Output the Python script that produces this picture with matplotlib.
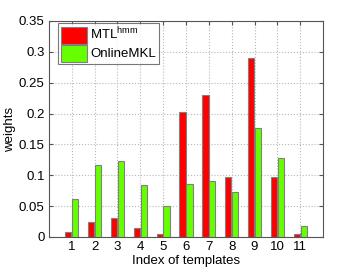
import matplotlib
matplotlib.use('Agg')
import matplotlib.pyplot as plt
import numpy as np

plt.rcParams['font.family'] = ['Liberation Sans', 'DejaVu Sans']

# data
templates = [1, 2, 3, 4, 5, 6, 7, 8, 9, 10, 11]
mtl_hmm = [0.008, 0.025, 0.030, 0.015, 0.005, 0.202, 0.230, 0.098, 0.290, 0.098, 0.005]
online_mkl = [0.062, 0.117, 0.123, 0.084, 0.050, 0.086, 0.090, 0.073, 0.176, 0.128, 0.018]
yticks = [0, 0.05, 0.1, 0.15, 0.2, 0.25, 0.3, 0.35]
yticklabels = ['0', '0.05', '0.1', '0.15', '0.2', '0.25', '0.3', '0.35']

fig = plt.figure(figsize=(3.57, 2.69), dpi=100)
ax = fig.add_axes([0.137, 0.119, 0.768, 0.803])

x = np.array(templates)
w = 0.27
ax.bar(x - 0.15, mtl_hmm, w, color='#ff0000', edgecolor='#808080', linewidth=0.8,
       label=r'MTL$^{\mathregular{hmm}}$', zorder=3)
ax.bar(x + 0.15, online_mkl, w, color='#66ff00', edgecolor='#808080', linewidth=0.8,
       label='OnlineMKL', zorder=3)

ax.set_xlim(0, 12)
ax.set_ylim(0, 0.35)
ax.set_xticks(templates)
ax.set_yticks(yticks)
ax.set_yticklabels(yticklabels)
ax.tick_params(direction='in', top=True, right=True, labelsize=9.5, length=3,
               color='#555555', pad=3)
ax.grid(True, linestyle=':', color='#b8b8b8', linewidth=0.8, zorder=0)
for s in ax.spines.values():
    s.set_color('#555555')
    s.set_linewidth(0.8)

ax.set_xlabel('Index of templates', fontsize=9.5, labelpad=1)
ax.set_ylabel('weights', fontsize=9.5, labelpad=2)

leg = ax.legend(loc='upper left', bbox_to_anchor=(0.033, 0.99), fontsize=9.5,
                frameon=True, fancybox=False, edgecolor='#555555',
                handlelength=2.0, handleheight=1.6, handletextpad=0.25,
                borderpad=0.2, labelspacing=0.08, borderaxespad=0)
leg.get_frame().set_linewidth(0.8)

fig.savefig('out.png', dpi=100)
